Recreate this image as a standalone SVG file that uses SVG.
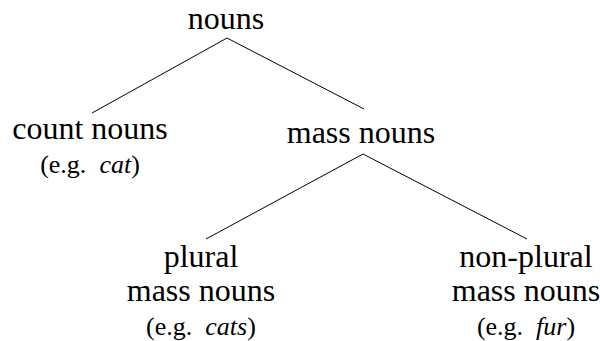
<svg xmlns="http://www.w3.org/2000/svg" width="600" height="341" viewBox="0 0 600 341">
<style>
text{font-family:"Liberation Serif","Times New Roman",serif;fill:#000;text-anchor:middle}
.m{font-size:32px}
.e{font-size:26px}
.e tspan{font-style:italic}
line{stroke:#000;stroke-width:1}
</style>
<rect width="600" height="341" fill="#fff"/>
<g id="connectors">
<line x1="227" y1="38" x2="92" y2="113"/>
<line x1="227" y1="38" x2="364" y2="109"/>
<line x1="363" y1="154" x2="206" y2="239"/>
<line x1="363" y1="154" x2="527" y2="239"/>
</g>
<g id="nouns"><text class="m" x="226" y="29">nouns</text></g>
<g id="count"><text class="m" x="90" y="139">count nouns</text><text class="e" x="90" y="173" xml:space="preserve">(e.g.  <tspan>cat</tspan>)</text></g>
<g id="mass"><text class="m" x="361" y="143">mass nouns</text></g>
<g id="plural"><text class="m" x="201" y="267">plural</text><text class="m" x="201" y="301">mass nouns</text><text class="e" x="201" y="335" xml:space="preserve">(e.g.  <tspan>cats</tspan>)</text></g>
<g id="nonplural"><text class="m" x="526" y="267">non-plural</text><text class="m" x="526" y="301">mass nouns</text><text class="e" x="526" y="335" xml:space="preserve">(e.g.  <tspan>fur</tspan>)</text></g>
</svg>
